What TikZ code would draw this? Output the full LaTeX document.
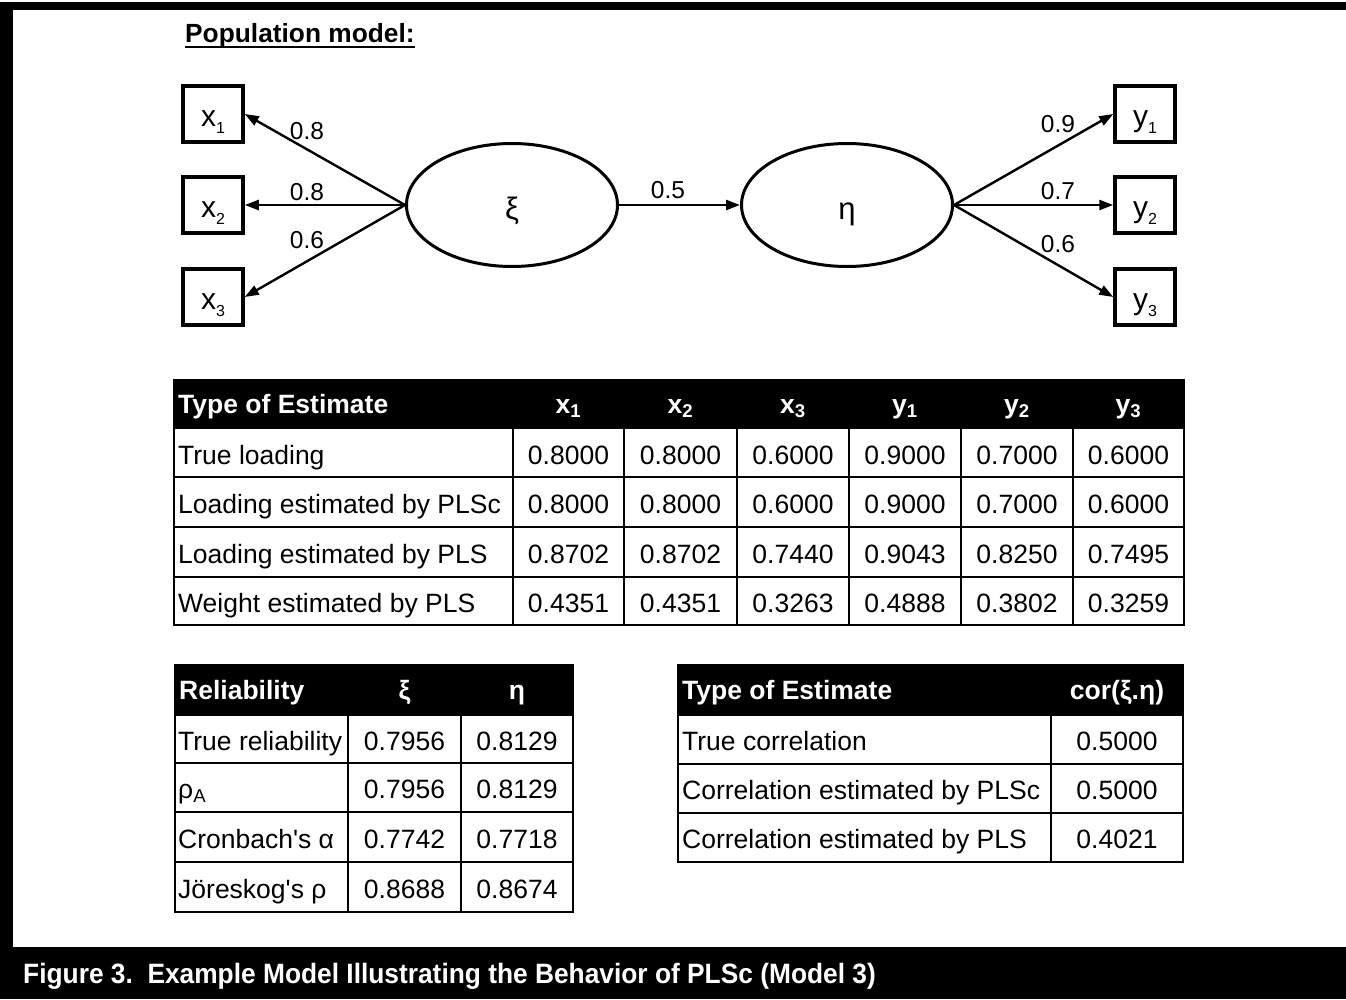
\documentclass[tikz,border=0pt]{standalone}
\usepackage{fontspec}
\setmainfont{Liberation Sans}
\newfontfamily\capfont{Liberation Sans}[FakeStretch=0.94]
\usetikzlibrary{shapes.geometric,arrows.meta}
\newcommand\fs[1]{\fontsize{#1}{#1}\selectfont}
\newcommand\obl[2]{\fs{30}#1\raisebox{-7pt}{\fs{16}#2}}
\begin{document}
\begin{tikzpicture}[x=1pt,y=-1pt,
  obs/.style={draw, line width=3.5pt, minimum width=60pt, minimum height=56pt, inner sep=0pt, text height=24pt, text depth=0pt},
  lat/.style={draw, ellipse, line width=3pt, minimum width=211pt, minimum height=123pt, inner sep=0pt, text height=28pt, text depth=0pt, font=\fs{31}},
  arr/.style={line width=2.4pt, -{Triangle[length=14pt,width=10pt]}},
  lbl/.style={inner sep=0pt, font=\fs{24.5}},
  cell/.style={inner sep=0pt, font=\fs{26.5}},
  hcell/.style={inner sep=0pt, font=\fs{26.5}\bfseries, text=white},
  grid/.style={line width=2pt},
]
\useasboundingbox (0,0) rectangle (1346,999);
% frame
\fill[black] (0,2) rectangle (1346,10);
\fill[black] (0,2) rectangle (13,999);
\fill[black] (0,947) rectangle (1346,999);
\node[anchor=base west, inner sep=0pt, text=white, font=\capfont\fs{28}\bfseries] (cap) at (23,983) {Figure 3.\ \ Example Model Illustrating the Behavior of PLSc (Model 3)};

% title
\node[anchor=base west, inner sep=0pt, font=\fs{26.3}\bfseries] (title) at (185,42) {Population model:};
\draw[line width=1.6pt] ([yshift=-5pt]title.base west) -- ([yshift=-5pt]title.base east);

% model
\node[obs] (x1) at (213,114) {\obl{x}{1}};
\node[obs] (x2) at (213,205) {\obl{x}{2}};
\node[obs] (x3) at (213,297) {\obl{x}{3}};
\node[obs] (y1) at (1145,114) {\obl{y}{1}};
\node[obs] (y2) at (1145,205) {\obl{y}{2}};
\node[obs] (y3) at (1145,297) {\obl{y}{3}};
\node[lat] (xi) at (512,205) {ξ};
\node[lat] (eta) at (847,205) {η};

\draw[arr] (xi.west) -- (x1.east);
\draw[arr] (xi.west) -- (x2.east);
\draw[arr] (xi.west) -- (x3.east);
\draw[arr] (xi.east) -- (eta.west);
\draw[arr] (eta.east) -- (y1.west);
\draw[arr] (eta.east) -- (y2.west);
\draw[arr] (eta.east) -- (y3.west);

\node[lbl] (l1) at (307,131) {0.8};
\node[lbl] (l2) at (307,192) {0.8};
\node[lbl] (l3) at (307,240) {0.6};
\node[lbl] (l4) at (668,190) {0.5};
\node[lbl] (l5) at (1058,124) {0.9};
\node[lbl] (l6) at (1058,191) {0.7};
\node[lbl] (l7) at (1058,244) {0.6};

% main table
\fill[black] (174,380) rectangle (1184,428);
\draw[grid] (174,380) rectangle (1184,625);
\foreach \y in {428,477,527,577} \draw[grid] (174,\y) -- (1184,\y);
\foreach \x in {513,624,737,849,961,1073} \draw[grid] (\x,428) -- (\x,625);
\node[hcell, anchor=base west] (mh0) at (178,413) {Type of Estimate};
\foreach \cx/\t [count=\i] in {568.5/x\textsubscript{1},680.5/x\textsubscript{2},793/x\textsubscript{3},905/y\textsubscript{1},1017/y\textsubscript{2},1128.5/y\textsubscript{3}}
  \node[hcell, anchor=base] (mh\i) at (\cx,413) {\t};
\foreach \by/\lab/\a/\b/\c/\d/\e/\f [count=\r] in {
  464/True loading/0.8000/0.8000/0.6000/0.9000/0.7000/0.6000,
  513.5/Loading estimated by PLSc/0.8000/0.8000/0.6000/0.9000/0.7000/0.6000,
  563.5/Loading estimated by PLS/0.8702/0.8702/0.7440/0.9043/0.8250/0.7495,
  612.5/Weight estimated by PLS/0.4351/0.4351/0.3263/0.4888/0.3802/0.3259}{
  \node[cell, anchor=base west] (m\r-0) at (178,\by) {\lab};
  \node[cell, anchor=base] (m\r-1) at (568.5,\by) {\a};
  \node[cell, anchor=base] (m\r-2) at (680.5,\by) {\b};
  \node[cell, anchor=base] (m\r-3) at (793,\by) {\c};
  \node[cell, anchor=base] (m\r-4) at (905,\by) {\d};
  \node[cell, anchor=base] (m\r-5) at (1017,\by) {\e};
  \node[cell, anchor=base] (m\r-6) at (1128.5,\by) {\f};
}

% reliability table
\fill[black] (175,665) rectangle (573,715);
\draw[grid] (175,665) rectangle (573,912);
\foreach \y in {715,763,812,862} \draw[grid] (175,\y) -- (573,\y);
\foreach \x in {348,461} \draw[grid] (\x,715) -- (\x,912);
\node[hcell, anchor=base west] (rh0) at (179,699) {Reliability};
\node[hcell, anchor=base] (rh1) at (404.5,699) {ξ};
\node[hcell, anchor=base] (rh2) at (517,699) {η};
\foreach \by/\lab/\a/\b [count=\r] in {
  750/True reliability/0.7956/0.8129,
  798.5/ρ\textsubscript{A}/0.7956/0.8129,
  848/Cronbach\textquotesingle s α/0.7742/0.7718,
  898/Jöreskog\textquotesingle s ρ/0.8688/0.8674}{
  \node[cell, anchor=base west] (r\r-0) at (178,\by) {\lab};
  \node[cell, anchor=base] (r\r-1) at (404.5,\by) {\a};
  \node[cell, anchor=base] (r\r-2) at (517,\by) {\b};
}

% correlation table
\fill[black] (678,665) rectangle (1183,715);
\draw[grid] (678,665) rectangle (1183,862);
\foreach \y in {715,764,813} \draw[grid] (678,\y) -- (1183,\y);
\draw[grid] (1051,715) -- (1051,862);
\node[hcell, anchor=base west] (ch0) at (682,699) {Type of Estimate};
\node[hcell, anchor=base] (ch1) at (1117,699) {cor(ξ.η)};
\foreach \by/\lab/\a [count=\r] in {
  750.5/True correlation/0.5000,
  799.5/Correlation estimated by PLSc/0.5000,
  848.5/Correlation estimated by PLS/0.4021}{
  \node[cell, anchor=base west] (c\r-0) at (682,\by) {\lab};
  \node[cell, anchor=base] (c\r-1) at (1117,\by) {\a};
}
\end{tikzpicture}
\end{document}
